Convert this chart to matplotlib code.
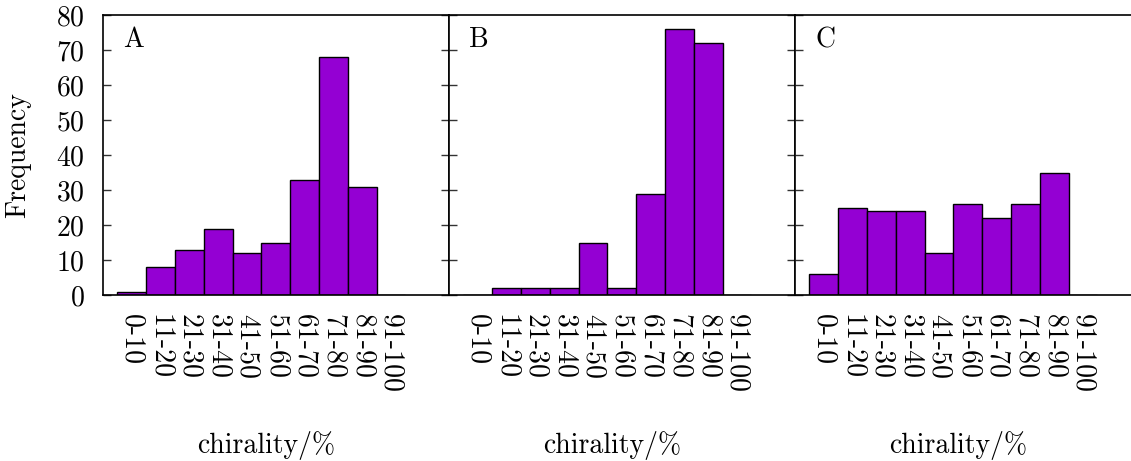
import matplotlib
matplotlib.use("Agg")
import matplotlib.pyplot as plt

plt.rcParams["font.family"] = "cmr10"
plt.rcParams["mathtext.fontset"] = "cm"
plt.rcParams["axes.unicode_minus"] = False
plt.rcParams["axes.formatter.use_mathtext"] = True

# Chirality bins and frequency counts for the three samples
categories = ["0-10", "11-20", "21-30", "31-40", "41-50",
              "51-60", "61-70", "71-80", "81-90", "91-100"]
freq_a = [1, 8, 13, 19, 12, 15, 33, 68, 31, 0]
freq_b = [0, 2, 2, 2, 15, 2, 29, 76, 72, 0]
freq_c = [6, 25, 24, 24, 12, 26, 22, 26, 35, 0]
panel_labels = ["A", "B", "C"]
y_ticks = [0, 10, 20, 30, 40, 50, 60, 70, 80]

bar_color = "#9400d3"
fs = 20

fig = plt.figure(figsize=(11.31, 4.61), dpi=100)

bottom, height = 0.360, 0.607
lefts = [0.0911, 0.397, 0.703]
width = 0.3055

for k, (vals, lab) in enumerate(zip([freq_a, freq_b, freq_c], panel_labels)):
    ax = fig.add_axes([lefts[k], bottom, width, height])
    x = list(range(len(categories)))
    ax.bar(x, vals, width=1.0, color=bar_color, edgecolor="black",
           linewidth=1.0, zorder=2)
    ax.set_xlim(-1, 11)
    ax.set_ylim(0, 80)
    ax.set_xticks(x)
    ax.set_xticklabels(categories, rotation=270, fontsize=fs)
    ax.tick_params(axis="x", length=0, pad=14)
    ax.set_yticks(y_ticks)
    ax.tick_params(axis="y", direction="in", length=6, width=1.0,
                   left=True, right=True, labelsize=fs, pad=13,
                   labelleft=(k == 0), color="#333333")
    for sp in ax.spines.values():
        sp.set_linewidth(1.2)
        sp.set_color("black")
    ax.set_xlabel("chirality/%", fontsize=fs, va="center")
    ax.xaxis.set_label_coords(0.473, -0.536)
    if k == 0:
        ax.set_ylabel("Frequency", fontsize=fs, va="center")
        ax.yaxis.set_label_coords(-0.246, 0.5)
    ax.text(0.058, 0.886, lab, transform=ax.transAxes, fontsize=fs,
            ha="left", va="baseline")

fig.savefig("out.png", dpi=100)
